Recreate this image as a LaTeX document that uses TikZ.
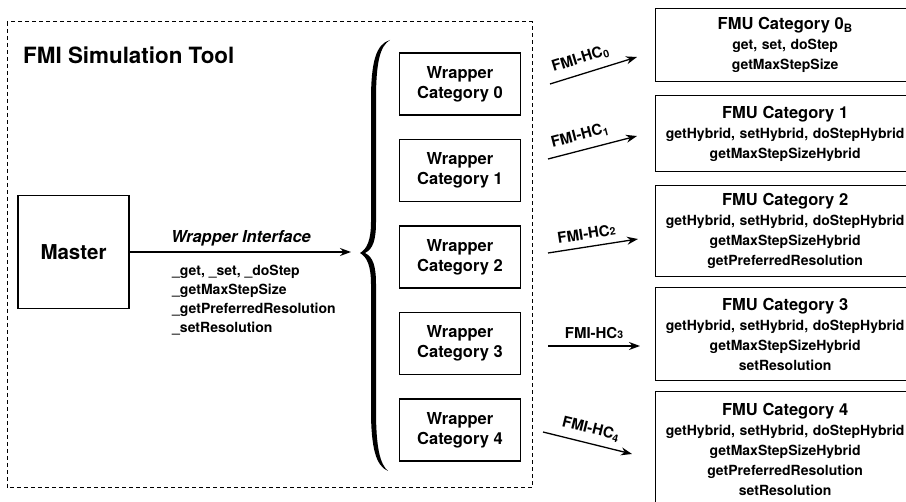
\documentclass[tikz,border=0pt]{standalone}
\usepackage{fontspec}
\setmainfont{TeX Gyre Heros}
\usetikzlibrary{arrows.meta,positioning}
\newcommand{\boxFont}[0]{\fontsize{14}{20}\selectfont\bfseries}
\newcommand{\titleFont}[0]{\fontsize{16.5}{20}\selectfont\bfseries}
\newcommand{\hcName}[1]{FMI-HC\textsubscript{#1}}
\newcommand{\hcSmall}[1]{FMI-HC{\fontsize{10.5}{10}\selectfont #1}}

\begin{document}
\begin{tikzpicture}[x=1pt,y=-1pt]
  \tikzset{every node/.style={font=\boxFont},
    plain box/.style={draw,line width=1.3pt,align=center,inner sep=0pt},
    wrapper box/.style={plain box,minimum width=121pt,minimum height=62pt,
      font=\fontsize{16.5}{20}\selectfont\bfseries},
    fmu box/.style={plain box,anchor=north west,text width=259pt},
    hc arrow/.style={-{Stealth[length=11pt,width=8pt]},line width=1.3pt},
    hc label/.style={sloped,above=5pt,inner sep=2pt,font=\fontsize{15}{18}\selectfont\bfseries}}
  \clip (0,0) rectangle (906,502);
  \draw[line width=1pt,dash pattern=on 4pt off 3pt] (7,22) rectangle (532,488);
  \node[anchor=west,inner sep=0pt,font=\fontsize{22.4}{24}\selectfont\bfseries]
    (tooltitle) at (23,55) {FMI Simulation Tool};
  \node[plain box,minimum width=111pt,minimum height=113pt,
    font=\fontsize{20.5}{24}\selectfont\bfseries] (master) at (73.5,252) {Master};
  \coordinate (ifaceend) at (351,252);
  \draw[hc arrow] (master.east) -- (ifaceend);
  \node[font=\fontsize{16.5}{20}\selectfont\bfseries\itshape] (ifacelabel) at (241,238) {Wrapper Interface};
  \node[anchor=north west,align=left,inner sep=0pt,font=\fontsize{14}{19}\selectfont\bfseries]
    (ifacefuncs) at (172,265) {\_get, \_set, \_doStep\\\_getMaxStepSize\\
      \_getPreferredResolution\\\_setResolution};
  \fill (390,40) .. controls (376,44) and (371,62) .. (371,100) -- (371,222)
    .. controls (371,240) and (367,249) .. (360,253)
    .. controls (367,257) and (371,266) .. (371,284) -- (371,410)
    .. controls (371,448) and (376,466) .. (388,471)
    .. controls (380,464) and (376,448) .. (376,410) -- (376,284)
    .. controls (376,266) and (373,257) .. (365,253)
    .. controls (373,249) and (376,240) .. (376,222) -- (376,100)
    .. controls (376,62) and (380,46) .. (390,40) -- cycle;
  \foreach \i in {0,...,4}
    \node[wrapper box] (wrap\i) at (460,84+86.5*\i) {Wrapper\\Category \i};
  \node[fmu box,minimum height=73pt] (fmu0) at (655,8)
    {{\titleFont FMU Category 0\textsubscript{B}}\\get, set, doStep\\getMaxStepSize};
  \node[fmu box,minimum height=76pt] (fmu1) at (655,95)
    {{\titleFont FMU Category 1}\\getHybrid, setHybrid, doStepHybrid\\getMaxStepSizeHybrid};
  \node[fmu box,minimum height=91pt] (fmu2) at (655,185)
    {{\titleFont FMU Category 2}\\getHybrid, setHybrid, doStepHybrid\\getMaxStepSizeHybrid\\
      getPreferredResolution};
  \node[fmu box,minimum height=93pt] (fmu3) at (655,287)
    {{\titleFont FMU Category 3}\\getHybrid, setHybrid, doStepHybrid\\getMaxStepSizeHybrid\\
      setResolution};
  \node[fmu box,minimum height=115pt] (fmu4) at (655,391)
    {{\titleFont FMU Category 4}\\getHybrid, setHybrid, doStepHybrid\\getMaxStepSizeHybrid\\
      getPreferredResolution\\setResolution};
  \coordinate (hc0s) at (550,84);  \coordinate (hc0e) at (637,57);
  \coordinate (hc1s) at (548,159); \coordinate (hc1e) at (637,136);
  \coordinate (hc2s) at (548,253); \coordinate (hc2e) at (638,239);
  \coordinate (hc3s) at (548,346); \coordinate (hc3e) at (640,346);
  \coordinate (hc4s) at (543,432); \coordinate (hc4e) at (632,454);
  \draw[hc arrow] (hc0s) -- node[hc label,pos=0.4] {\hcName{0}} (hc0e);
  \draw[hc arrow] (hc1s) -- node[hc label,pos=0.4] {\hcName{1}} (hc1e);
  \draw[hc arrow] (hc2s) -- node[hc label,pos=0.45] {\hcSmall{2}} (hc2e);
  \draw[hc arrow] (hc3s) -- node[hc label,pos=0.5] {\hcSmall{3}} (hc3e);
  \draw[hc arrow] (hc4s) -- node[hc label,pos=0.5] {\hcName{4}} (hc4e);
\end{tikzpicture}
\end{document}
